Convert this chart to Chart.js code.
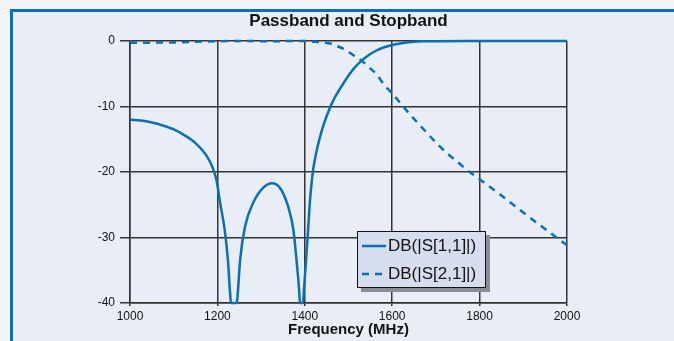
<!DOCTYPE html>
<html>
<head>
<meta charset="utf-8">
<script src="https://cdn.jsdelivr.net/npm/chart.js@4.4.1/dist/chart.umd.min.js"></script>
<style>
    html, body { margin: 0; padding: 0; }
    body { width: 674px; height: 341px; background: #f3f5fa; position: relative; overflow: hidden; font-family: "Liberation Sans", Arial, sans-serif; }
    #frame { position: absolute; left: 10px; top: 9px; right: 0; bottom: 0; background: #e9edf5; border-left: 3px solid #0b6fb3; border-top: 3px solid #0b6fb3; }
    #plot { position: absolute; left: 0; top: 0; }
    #legend { position: absolute; left: 357px; top: 231px; width: 127px; height: 55px; background: #d6ddec; border: 1px solid #111; box-shadow: 4px 4px 0 #8a8d94; }
    .row { position: absolute; left: 4px; height: 20px; display: flex; align-items: center; font-size: 17px; color: #111; }
    .row svg { margin-right: 2px; }
</style>
</head>
<body>
<div id="frame"></div>
<canvas id="plot" width="674" height="341"></canvas>
<div id="legend">
    <div class="row" style="top:4px"><svg width="24" height="6"><line x1="0" y1="3" x2="24" y2="3" stroke="#0b6fb3" stroke-width="2.5"/></svg>DB(|S[1,1]|)</div>
    <div class="row" style="top:32px"><svg width="24" height="6"><line x1="0" y1="3" x2="24" y2="3" stroke="#0b6fb3" stroke-width="2.5" stroke-dasharray="7 6"/></svg>DB(|S[2,1]|)</div>
</div>
<script>
// reflection, dB
const s11Freq = [1000, 1025, 1050, 1075, 1100, 1125, 1150, 1175, 1190, 1198, 1206, 1217, 1224, 1229, 1231, 1244, 1246, 1252, 1263, 1282, 1305, 1325, 1343, 1362, 1374, 1381, 1387, 1389, 1396, 1398, 1403, 1408, 1412, 1419, 1427, 1435, 1445, 1455, 1465, 1475, 1490, 1503, 1515, 1530, 1545, 1564, 1580, 1600, 1625, 1650, 1675, 1700, 1800, 2000];
const s11Db = [-12.0, -12.15, -12.45, -12.9, -13.5, -14.4, -15.6, -17.5, -19.5, -21.3, -24.6, -29.0, -33.4, -38.5, -40, -40, -39, -33.4, -28.4, -24.7, -22.4, -21.7, -22.4, -25.3, -28.9, -33.4, -38.0, -40, -40, -38, -33.4, -28.3, -24.3, -19.7, -16.8, -14.6, -12.4, -10.6, -9.1, -7.9, -6.3, -5.0, -4.0, -3.0, -2.2, -1.45, -1.0, -0.6, -0.3, -0.12, -0.05, -0.02, 0, 0];

// transmission, dB
const s21Freq = [1000, 1100, 1200, 1240, 1325, 1395, 1420, 1445, 1462, 1475, 1490, 1503, 1515, 1530, 1545, 1564, 1583, 1600, 1625, 1650, 1675, 1700, 1725, 1750, 1775, 1800, 1850, 1900, 1950, 2000];
const s21Db = [-0.28, -0.21, -0.03, 0, -0.03, 0, -0.1, -0.26, -0.46, -0.8, -1.25, -1.8, -2.35, -3.0, -3.9, -5.1, -6.8, -8.0, -10.0, -11.9, -13.7, -15.5, -17.1, -18.5, -19.9, -21.1, -23.6, -26.2, -28.7, -31.2];

const xTicks = [1000, 1200, 1400, 1600, 1800, 2000];
const yTicks = [0, -10, -20, -30, -40];

const BLUE = "#0b6fb3";
const GRID = "#333333";
const FONT = "'Liberation Sans', Arial, sans-serif";

const toPoints = (xs, ys) => xs.map((x, i) => ({ x: x, y: ys[i] }));

const ctx = document.getElementById("plot").getContext("2d");
new Chart(ctx, {
    type: "line",
    data: {
        datasets: [
            {
                label: "DB(|S[1,1]|)",
                data: toPoints(s11Freq, s11Db),
                borderColor: BLUE,
                borderWidth: 2.5,
                pointRadius: 0,
                cubicInterpolationMode: "monotone",
                clip: 4,
            },
            {
                label: "DB(|S[2,1]|)",
                data: toPoints(s21Freq, s21Db),
                borderColor: BLUE,
                borderWidth: 2.5,
                borderDash: [7, 6],
                pointRadius: 0,
                cubicInterpolationMode: "monotone",
                clip: 4,
            },
        ],
    },
    options: {
        responsive: false,
        animation: false,
        layout: { padding: { left: 0, right: 107, top: 0, bottom: 0 } },
        plugins: {
            legend: { display: false },
            tooltip: { enabled: false },
            title: {
                display: true,
                fullSize: false,
                text: "Passband and Stopband",
                color: "#111",
                font: { family: FONT, size: 17, weight: "bold", lineHeight: "20px" },
                padding: { top: 11, bottom: 10 },
            },
        },
        scales: {
            x: {
                type: "linear",
                min: 1000,
                max: 2000,
                afterBuildTicks: (scale) => { scale.ticks = xTicks.map((v) => ({ value: v })); },
                afterFit: (scale) => { scale.height = 38; },
                ticks: {
                    color: "#111",
                    font: { family: FONT, size: 12 },
                    padding: 3,
                    maxRotation: 0,
                    callback: (v) => String(v),
                },
                grid: { color: GRID, lineWidth: 1.5, tickLength: 3 },
                border: { color: GRID, width: 1.5 },
                title: {
                    display: true,
                    text: "Frequency (MHz)",
                    color: "#111",
                    font: { family: FONT, size: 15, weight: "bold", lineHeight: 1.2 },
                    padding: { top: 0, bottom: 2 },
                },
            },
            y: {
                type: "linear",
                min: -40,
                max: 0,
                afterBuildTicks: (scale) => { scale.ticks = yTicks.map((v) => ({ value: v })); },
                afterFit: (scale) => { scale.width = 130; },
                ticks: {
                    color: "#111",
                    font: { family: FONT, size: 12 },
                    padding: 5,
                    callback: (v) => String(v),
                },
                grid: { color: GRID, lineWidth: 1.5, tickLength: 10 },
                border: { color: GRID, width: 1.5 },
            },
        },
    },
});
</script>
</body>
</html>
